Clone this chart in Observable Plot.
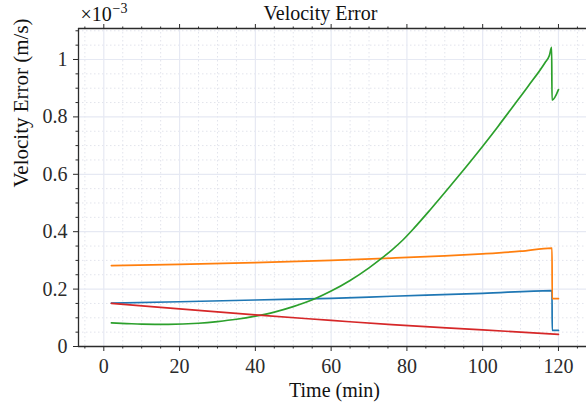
<!DOCTYPE html>
<html><head><meta charset="utf-8">
<script src="https://cdn.jsdelivr.net/npm/d3@7"></script>
<script src="https://cdn.jsdelivr.net/npm/@observablehq/plot@0.6"></script>
<style>body{margin:0;background:#fff}</style>
</head><body><div id="chart"></div>
<script>
// Values in units of 1e-3 m/s
const seriesNames = ["Series 1", "Series 2", "Series 3", "Series 4"];
const s1Time = [2, 20, 40, 60, 76, 100, 118.3, 118.35, 120];
const s1Val  = [0.151, 0.156, 0.162, 0.168, 0.175, 0.185, 0.195, 0.056, 0.056];
const s2Time = [2, 20, 40, 60, 76, 90, 100, 110, 118.3, 118.35, 120];
const s2Val  = [0.282, 0.286, 0.292, 0.300, 0.308, 0.316, 0.323, 0.332, 0.343, 0.167, 0.167];
const s3Time = [2, 6, 10, 17, 25, 30, 35, 40, 45, 50, 56, 60, 65, 70, 73.2, 76, 79, 82, 86, 91, 95, 100, 104, 108.5, 112, 116.4, 117.6, 118.2, 118.3, 120];
const s3Val  = [0.082, 0.080, 0.078, 0.077, 0.081, 0.087, 0.095, 0.106, 0.120, 0.139, 0.168, 0.193, 0.230, 0.274, 0.306, 0.336, 0.372, 0.414, 0.474, 0.552, 0.616, 0.698, 0.766, 0.845, 0.907, 0.988, 1.014, 1.042, 0.858, 0.895];
const s4Time = [2, 20, 40, 60, 76, 100, 120];
const s4Val  = [0.150, 0.131, 0.110, 0.091, 0.076, 0.058, 0.042];

const xMajorTicks = [0, 20, 40, 60, 80, 100, 120];
const xTickLabels = ["0", "20", "40", "60", "80", "100", "120"];
const xMinorTicks = [-5, 5, 10, 15, 25, 30, 35, 45, 50, 55, 65, 70, 75, 85, 90, 95, 105, 110, 115, 125];
const yMajorTicks = [0, 0.2, 0.4, 0.6, 0.8, 1];
const yTickLabels = ["0", "0.2", "0.4", "0.6", "0.8", "1"];
const yMinorTicks = [0.05, 0.1, 0.15, 0.25, 0.3, 0.35, 0.45, 0.5, 0.55, 0.65, 0.7, 0.75, 0.85, 0.9, 0.95, 1.05, 1.1];

const rows = [];
const add = (name, ts, vs) => ts.forEach((t, i) => rows.push({s: name, t, v: vs[i]}));
add(seriesNames[0], s1Time, s1Val);
add(seriesNames[1], s2Time, s2Val);
add(seriesNames[2], s3Time, s3Val);
add(seriesNames[3], s4Time, s4Val);

const xMin = -6.68, xMax = 127.4, yMax = 1.108;
const axisColor = "#2b2b2b";
const font = "'Liberation Serif', 'DejaVu Serif', serif";

const chart = Plot.plot({
  width: 586, height: 411,
  marginLeft: 78, marginRight: 0, marginTop: 28, marginBottom: 65,
  style: {fontFamily: font, fontSize: "20px", background: "#fff", color: axisColor},
  x: {domain: [xMin, xMax]},
  y: {domain: [0, yMax]},
  color: {domain: seriesNames, range: ["#1f77b4", "#ff7f0e", "#2ca02c", "#d62728"]},
  marks: [
    Plot.gridX(xMinorTicks, {stroke: "#e2e4ec", strokeOpacity: 1, strokeDasharray: "1.5,2.5"}),
    Plot.gridY(yMinorTicks, {stroke: "#e2e4ec", strokeOpacity: 1, strokeDasharray: "1.5,2.5"}),
    Plot.gridX(xMajorTicks, {stroke: "#e6e9f3", strokeOpacity: 1, strokeWidth: 1.2}),
    Plot.gridY(yMajorTicks, {stroke: "#e6e9f3", strokeOpacity: 1, strokeWidth: 1.2}),
    Plot.line(rows, {x: "t", y: "v", z: "s", stroke: "s", strokeWidth: 1.7, curve: "monotone-x"}),
    Plot.ruleY([0], {stroke: axisColor, strokeWidth: 1.3}),
    Plot.ruleY([yMax], {stroke: axisColor, strokeWidth: 1.3}),
    Plot.ruleX([xMin], {stroke: axisColor, strokeWidth: 1.3}),
    Plot.axisX(xMajorTicks, {anchor: "bottom", tickSize: 5, tickPadding: 7, label: null, stroke: axisColor,
      tickFormat: d => xTickLabels[xMajorTicks.indexOf(d)], fontSize: 20}),
    Plot.axisX(xMinorTicks, {anchor: "bottom", tickSize: 2.5, label: null, stroke: axisColor, fill: "none"}),
    Plot.axisX(xMajorTicks, {anchor: "top", tickSize: 5, label: null, stroke: axisColor, fill: "none"}),
    Plot.axisX(xMinorTicks, {anchor: "top", tickSize: 2.5, label: null, stroke: axisColor, fill: "none"}),
    Plot.axisY(yMajorTicks, {anchor: "left", tickSize: 5, tickPadding: 6, label: null, stroke: axisColor,
      tickFormat: d => yTickLabels[yMajorTicks.indexOf(d)], fontSize: 20}),
    Plot.axisY(yMinorTicks, {anchor: "left", tickSize: 2.5, label: null, stroke: axisColor, fill: "none"}),
    Plot.text(["Velocity Error"], {frameAnchor: "top", lineAnchor: "middle", dx: -12, dy: -14.5, fontSize: 20, fill: "#111"}),
    Plot.text(["Time (min)"], {frameAnchor: "bottom", dx: 2, dy: 50, fontSize: 20, fill: "#111"}),
    Plot.text(["Velocity Error (m/s)"], {frameAnchor: "left", rotate: -90, dx: -57, fontSize: 21, fill: "#111"}),
    Plot.text(["×10"], {frameAnchor: "top-left", lineAnchor: "middle", textAnchor: "start", dx: 2, dy: -13.5, fontSize: 20, fill: "#111"}),
    Plot.text(["−3"], {frameAnchor: "top-left", lineAnchor: "middle", textAnchor: "start", dx: 34, dy: -20, fontSize: 14, fill: "#111"})
  ]
});
document.getElementById("chart").appendChild(chart);
</script>
</body></html>
